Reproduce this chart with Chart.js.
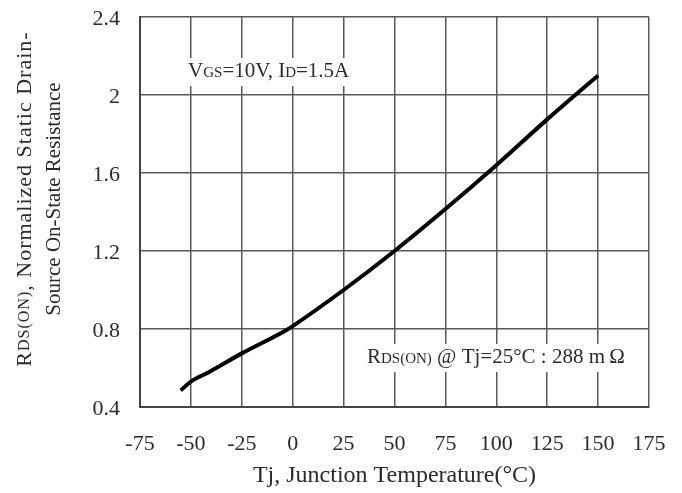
<!DOCTYPE html>
<html>
<head>
<meta charset="utf-8">
<script src="https://cdn.jsdelivr.net/npm/chart.js@4"></script>
<style>
  html, body { margin: 0; padding: 0; background: #fff; }
  #wrap { width: 682px; height: 493px; }
</style>
</head>
<body>
<div id="wrap"><canvas id="rdsChart" width="682" height="493"></canvas></div>
<script>
// ── Data ──────────────────────────────────────────────────
const tempC = [-55, -50, -41, -25, -3, 0, 25, 50, 75, 100, 125, 150];
const rdsNorm = [0.485, 0.53, 0.58, 0.675, 0.795, 0.815, 1.0, 1.2, 1.415, 1.64, 1.875, 2.1];

const xTicks = [-75, -50, -25, 0, 25, 50, 75, 100, 125, 150, 175];
const yTicks = [0.4, 0.8, 1.2, 1.6, 2.0, 2.4];

const FONT = '"Liberation Serif", "Times New Roman", serif';
const TEXT = "#2b2b2b";

// draws a run of text pieces [text, size] one after the other
function measureRich(c, parts) {
  let w = 0;
  parts.forEach(([t, s]) => {
    c.font = `${s}px ${FONT}`;
    w += c.measureText(t).width;
  });
  return w;
}

function drawRich(c, parts, x, y, align) {
  const w = measureRich(c, parts);
  let cx = align === "center" ? x - w / 2 : x;
  parts.forEach(([t, s]) => {
    c.font = `${s}px ${FONT}`;
    c.fillText(t, cx, y);
    cx += c.measureText(t).width;
  });
  return w;
}

// ── Text inside the plot, with white boxes over the grid ─
const notesPlugin = {
  id: "notes",
  beforeDatasetsDraw(chart) {
    const { ctx: c, scales } = chart;
    const notes = [
      { at: [-51.4, 2.092], parts: [["V", 21], ["GS", 15], ["=10V, I", 21], ["D", 15], ["=1.5A", 21]] },
      { at: [36.5, 0.626], parts: [["R", 21], ["DS(ON)", 15], [" @ Tj=25°C : 288 m\u2009Ω", 21]] },
    ];
    c.save();
    c.textBaseline = "alphabetic";
    notes.forEach((n) => {
      const x = scales.x.getPixelForValue(n.at[0]);
      const y = scales.y.getPixelForValue(n.at[1]);
      const w = measureRich(c, n.parts);
      c.fillStyle = "#fff";
      c.fillRect(x - 3, y - 19, w + 6, 28);
      c.fillStyle = TEXT;
      drawRich(c, n.parts, x, y, "left");
    });
    c.restore();
  },
  afterDraw(chart) {
    const { ctx: c } = chart;
    c.save();
    c.fillStyle = TEXT;
    c.textBaseline = "middle";
    c.translate(25, 199);
    c.rotate(-Math.PI / 2);
    c.letterSpacing = "1px";
    drawRich(c, [["R", 22], ["DS(ON)", 16], [", Normalized Static Drain-", 22]], 0, 0, "center");
    c.letterSpacing = "0px";
    drawRich(c, [["Source On-State Resistance", 21]], 0, 29, "center");
    c.restore();
  },
};

const canvas = document.getElementById("rdsChart");

const chart = new Chart(canvas, {
  type: "line",
  data: {
    datasets: [
      {
        data: tempC.map((t, i) => ({ x: t, y: rdsNorm[i] })),
        borderColor: "#000",
        borderWidth: 4,
        pointRadius: 0,
        cubicInterpolationMode: "monotone",
        fill: false,
      },
    ],
  },
  options: {
    responsive: false,
    animation: false,
    layout: { padding: { top: 17, right: 33, left: 0, bottom: 0 } },
    plugins: {
      legend: { display: false },
      tooltip: { enabled: false },
    },
    scales: {
      x: {
        type: "linear",
        min: -75,
        max: 175,
        afterBuildTicks: (s) => {
          s.ticks = xTicks.map((v) => ({ value: v }));
        },
        afterFit: (s) => {
          s.height = 86;
          s.paddingLeft = 0;
          s.paddingRight = 0;
        },
        grid: { color: "#5a5a5a", lineWidth: 1.5, drawTicks: false },
        border: { color: "#444", width: 2 },
        ticks: {
          padding: 24,
          color: TEXT,
          font: { family: FONT, size: 22 },
          maxRotation: 0,
        },
        title: {
          display: true,
          text: "Tj, Junction Temperature(°C)",
          color: TEXT,
          font: { family: FONT, size: 24 },
          padding: { top: 0, bottom: 3 },
        },
      },
      y: {
        type: "linear",
        min: 0.4,
        max: 2.4,
        afterBuildTicks: (s) => {
          s.ticks = yTicks.map((v) => ({ value: v }));
        },
        afterFit: (s) => {
          s.width = 140;
          s.paddingTop = 0;
          s.paddingBottom = 0;
        },
        grid: { color: "#5a5a5a", lineWidth: 1.5, drawTicks: false },
        border: { color: "#444", width: 2 },
        ticks: {
          padding: 20,
          labelOffset: 2,
          color: TEXT,
          font: { family: FONT, size: 22 },
          callback: (v) => String(Number(v.toFixed(1))),
        },
      },
    },
  },
  plugins: [notesPlugin],
});
</script>
</body>
</html>
